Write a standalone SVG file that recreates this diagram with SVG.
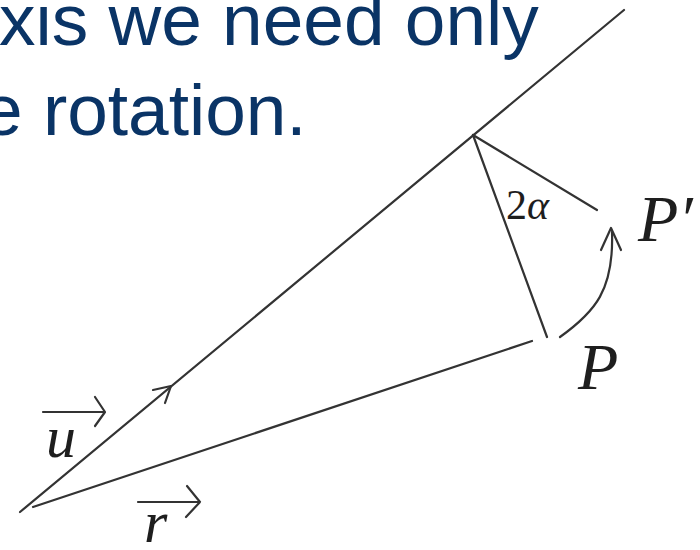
<svg xmlns="http://www.w3.org/2000/svg" width="700" height="550" viewBox="0 0 700 550">
<style>
.title{font-family:"Liberation Sans",Arial,sans-serif;font-size:73px;fill:#0a3466}
.ln{stroke:#333333;stroke-width:2.2;fill:none;stroke-linecap:round;stroke-linejoin:round}
.lbl{font-family:"Liberation Serif","Times New Roman",serif;font-style:italic;fill:#1e1e1e}
</style>
<rect width="700" height="550" fill="#ffffff"/>
<g id="title">
<text class="title" x="-1" y="45">xis we need only</text>
<text class="title" x="-18" y="135">e rotation.</text>
</g>
<g id="connectors">
<line class="ln" x1="20" y1="512" x2="624" y2="10"/>
<path class="ln" d="M153,390 L171,386 L165,403"/>
<line class="ln" x1="33" y1="507" x2="532" y2="341"/>
<line class="ln" x1="473" y1="135" x2="547" y2="337"/>
<line class="ln" x1="473" y1="135" x2="597" y2="210"/>
<path class="ln" d="M560,337 C595,312 614,290 612,232"/>
<path class="ln" d="M601,250 L611,228 L621,250"/>
</g>
<g id="label-2alpha">
<text x="506" y="219" font-family="Liberation Serif,serif" font-size="42" fill="#1e1e1e">2<tspan font-style="italic">α</tspan></text>
</g>
<g id="label-Pprime">
<text class="lbl" x="638" y="241" font-size="66">P′</text>
</g>
<g id="label-P">
<text class="lbl" x="578" y="389" font-size="66">P</text>
</g>
<g id="label-u">
<text class="lbl" x="46" y="457" font-size="60">u</text>
<path class="ln" d="M43,412 L105,412 M95,397 L105,412 L95,426"/>
</g>
<g id="label-r">
<text class="lbl" x="144" y="542" font-size="60">r</text>
<path class="ln" d="M138,502 L200,502 M187,486 L200,502 L186,517"/>
</g>
</svg>
